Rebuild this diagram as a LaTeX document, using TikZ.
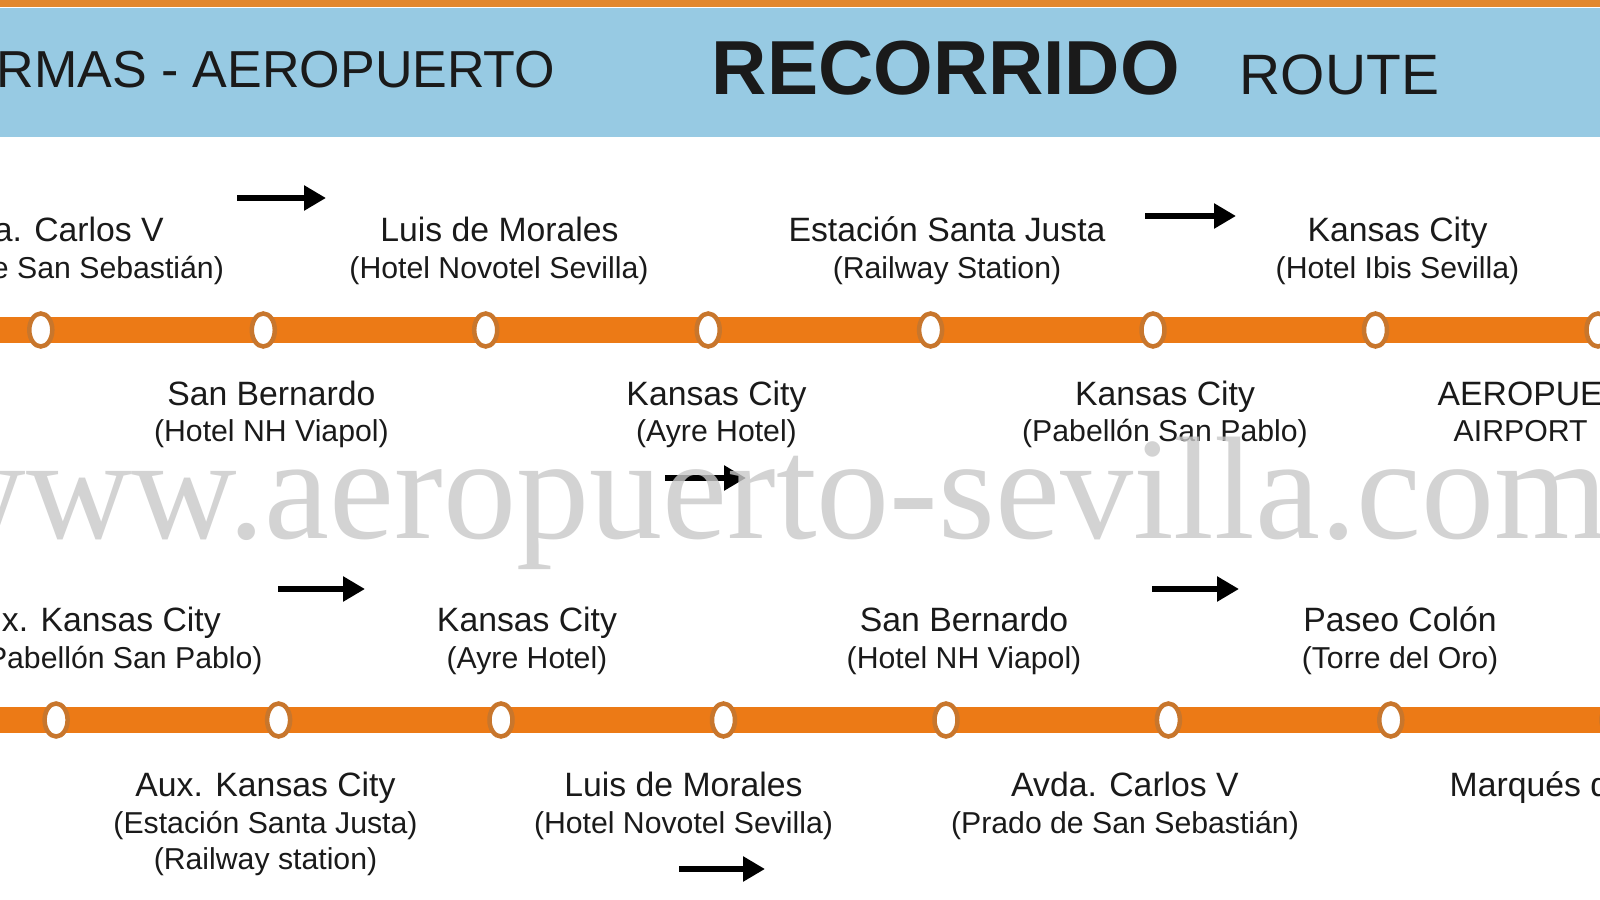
\documentclass[tikz,border=0pt]{standalone}
\usepackage{fontspec}
\setmainfont{Liberation Sans}
\newfontfamily\wmfont{Liberation Serif}
\usetikzlibrary{shapes.geometric,arrows.meta}
\definecolor{routeorange}{HTML}{EC7A16}
\definecolor{ringorange}{HTML}{C8762C}
\definecolor{headblue}{HTML}{97CAE3}
\definecolor{topstrip}{HTML}{E2882E}
\definecolor{wmgray}{HTML}{C8C8C8}
\definecolor{inkblack}{HTML}{1A1A1A}
\begin{document}
\begin{tikzpicture}[x=0.1mm,y=-0.1mm,
  stopdot/.style={ellipse, draw=ringorange, fill=white, line width=0.45mm,
    minimum width=2.3mm, minimum height=3.3mm, inner sep=0pt},
  routeline/.style={draw=routeorange, line width=2.6mm},
  nameA/.style={font=\fontsize{9.6}{11}\selectfont, text=inkblack, inner sep=0pt, anchor=base},
  nameB/.style={font=\fontsize{8.6}{10}\selectfont, text=inkblack, inner sep=0pt, anchor=base},
  titletext/.style={text=inkblack, inner sep=0pt},
  dirarrow/.style={draw=black, line width=0.6mm, -{Triangle[length=2.2mm,width=2.4mm]}},
]
\useasboundingbox (0,0) rectangle (1600,900);
\clip (0,0) rectangle (1600,900);
\fill[white] (0,0) rectangle (1600,900);
% header
\fill[topstrip] (0,0) rectangle (1600,7);
\fill[headblue] (0,8) rectangle (1600,137);
\node[titletext, anchor=base east, font=\fontsize{14.8}{16}\selectfont] (title1) at (556,88) {ARMAS - AEROPUERTO};
\node[titletext, anchor=base west, font=\fontsize{21.8}{24}\selectfont\bfseries] (title2) at (711,95) {RECORRIDO};
\node[titletext, anchor=base west, font=\fontsize{16.2}{18}\selectfont] (title3) at (1239,95) {ROUTE};

% route lines
\coordinate (tL) at (-40,330);
\coordinate (tR) at (1660,330);
\coordinate (bL) at (-40,720);
\coordinate (bR) at (1660,720);
\draw[routeline] (tL) -- (tR);
\draw[routeline] (bL) -- (bR);

% stops, top line
\foreach \i/\x in {1/40.8,2/263.3,3/485.7,4/708.2,5/930.6,6/1153,7/1375.5,8/1598}
  \node[stopdot] (t\i) at (\x,330) {};
% stops, bottom line
\foreach \i/\x in {1/56.1,2/278.6,3/501,4/723.5,5/946,6/1168.4,7/1390.8,8/1613}
  \node[stopdot] (b\i) at (\x,720) {};

% labels row 1, above
\node[nameA] (l1a) at (50,242) {Avda. Carlos V};
\node[nameB] (l1b) at (50,279) {(Prado de San Sebastián)};
\node[nameA] (l2a) at (499.5,242) {Luis de Morales};
\node[nameB] (l2b) at (499,279) {(Hotel Novotel Sevilla)};
\node[nameA] (l3a) at (947,242) {Estación Santa Justa};
\node[nameB] (l3b) at (947,279) {(Railway Station)};
\node[nameA] (l4a) at (1397.5,242) {Kansas City};
\node[nameB] (l4b) at (1397.5,279) {(Hotel Ibis Sevilla)};
% labels row 1, below
\node[nameA] (l5a) at (271.4,405) {San Bernardo};
\node[nameB] (l5b) at (271.4,442) {(Hotel NH Viapol)};
\node[nameA] (l6a) at (716.5,405) {Kansas City};
\node[nameB] (l6b) at (716.5,442) {(Ayre Hotel)};
\node[nameA] (l7a) at (1165,405) {Kansas City};
\node[nameB] (l7b) at (1165,442) {(Pabellón San Pablo)};
\node[nameA, anchor=base west] (l8a) at (1437,405) {AEROPUERTO};
\node[nameB, anchor=base west] (l8b) at (1453,442) {AIRPORT};
% labels row 2, above
\node[nameA, anchor=base east] (m1a) at (221.4,631) {Aux. Kansas City};
\node[nameB, anchor=base east] (m1b) at (263.3,668) {(Pabellón San Pablo)};
\node[nameA] (m2a) at (527,631) {Kansas City};
\node[nameB] (m2b) at (527,668) {(Ayre Hotel)};
\node[nameA] (m3a) at (964,631) {San Bernardo};
\node[nameB] (m3b) at (964,668) {(Hotel NH Viapol)};
\node[nameA] (m4a) at (1400,631) {Paseo Colón};
\node[nameB] (m4b) at (1400,668) {(Torre del Oro)};
% labels row 2, below
\node[nameA] (m5a) at (265.5,796) {Aux. Kansas City};
\node[nameB] (m5b) at (265.5,833) {(Estación Santa Justa)};
\node[nameB] (m5c) at (265.5,869) {(Railway station)};
\node[nameA] (m6a) at (683.5,796) {Luis de Morales};
\node[nameB] (m6b) at (683.5,833) {(Hotel Novotel Sevilla)};
\node[nameA] (m7a) at (1125,796) {Avda. Carlos V};
\node[nameB] (m7b) at (1125,833) {(Prado de San Sebastián)};
\node[nameA, anchor=base west] (m8a) at (1449,796) {Marqués de};

% direction arrows
\coordinate (a1s) at (237,198);  \coordinate (a1e) at (326,198);
\coordinate (a2s) at (1145,216); \coordinate (a2e) at (1236,216);
\coordinate (a3s) at (665,478);  \coordinate (a3e) at (746,478);
\coordinate (a4s) at (278,589);  \coordinate (a4e) at (365,589);
\coordinate (a5s) at (1152,589); \coordinate (a5e) at (1239,589);
\coordinate (a6s) at (679,869);  \coordinate (a6e) at (765,869);
\draw[dirarrow] (a1s) -- (a1e);
\draw[dirarrow] (a2s) -- (a2e);
\draw[dirarrow] (a3s) -- (a3e);
\draw[dirarrow] (a4s) -- (a4e);
\draw[dirarrow] (a5s) -- (a5e);
\draw[dirarrow] (a6s) -- (a6e);

% watermark
\node[anchor=base west, inner sep=0pt, font=\wmfont\fontsize{41.6}{44}\selectfont,
  text=wmgray, opacity=0.8] (wm) at (-80,538) {www.aeropuerto-sevilla.com};
\end{tikzpicture}
\end{document}
